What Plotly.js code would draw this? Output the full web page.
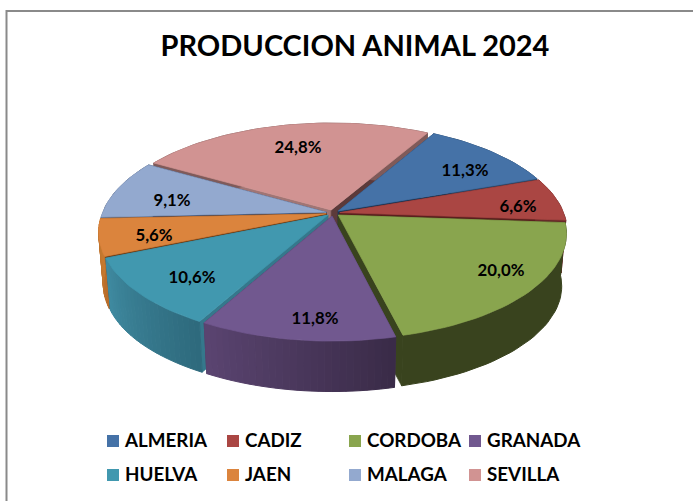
<!DOCTYPE html>
<html><head><meta charset="utf-8">
<script src="https://cdn.plot.ly/plotly-3.0.1.min.js"></script>
<style>html,body{margin:0;padding:0;background:#fff}#c{width:693px;height:501px}</style>
</head><body><div id="c"></div>
<script>
// ---- chart data ----
const categories = ['ALMERIA','CADIZ','CORDOBA','GRANADA','HUELVA','JAEN','MALAGA','SEVILLA'];
const shares = [11.3,6.6,20.0,11.8,10.6,5.6,9.1,24.8];
const shareLabels = ['11,3%','6,6%','20,0%','11,8%','10,6%','5,6%','9,1%','24,8%'];
const chartTitle = 'PRODUCCION ANIMAL 2024';
// ---- styles ----
const topColors  = ['#4572A7','#AA4643','#89A54E','#71588F','#4198AF','#DB843D','#93A9CF','#D19392'];
const rimFrom    = ['#2A4566','#672A28','#39431E','#3A2B48','#2E6A7D','#B86C2A','#5A6A86','#7F5A59'];
const rimTo      = ['#2A4566','#672A28','#39431E','#5A4470','#3F8AA0','#C67A30','#5A6A86','#7F5A59'];
const startWall  = ['#1D3554','#5A1F1E','#39431E','#4A3A5C','#35788C','#6B3A12','#26385A','#A07574'];
const endWall    = ['#1D3554','#5A1F1E','#39431E','#4A3A5C','#35788C','#6B3A12','#26385A','#5C3A3A'];
const labelAnchorX = [465,518,501,315,192,154,172,298];
const labelAnchorY = [171.5,207.5,271.5,319.5,278.5,236.5,201.5,148.5];
// ---- projection of the tilted disc ----
const apex = {x:333,y:213}, A = 229.6, B = 105.2, K = 0.174;
const startAngle = 29.6, explode = 0.03, radius = 0.975;
const depthScale = 0.98, depthShift = 53;
const rad = d => d*Math.PI/180;
function project(X,Y,deep){
  const w = 1+K*Y, u = A*X/w, v = B*Y/w;
  const s = deep ? depthScale : 1, h = deep ? depthShift : 0;
  return [apex.x+s*u, apex.y-s*v+h];
}
function mix(a,b,t){
  const p=c=>[1,3,5].map(i=>parseInt(c.substr(i,2),16));
  const A1=p(a),B1=p(b);
  return 'rgb('+A1.map((v,i)=>Math.round(v+(B1[i]-v)*t)).join(',')+')';
}
const total = shares.reduce((a,b)=>a+b,0);
let cursor = startAngle;
const slices = shares.map((v,i)=>{
  const from = cursor, to = cursor + v/total*360; cursor = to;
  const mid = (from+to)/2;
  const ox = explode*Math.sin(rad(mid)), oy = explode*Math.cos(rad(mid));
  const pt = (a,r,deep)=>project(ox+r*Math.sin(rad(a)), oy+r*Math.cos(rad(a)), deep);
  return {i,from,to,mid,pt,depth:Math.cos(rad(mid))};
});
const traces = [];
function poly(pts,color,name,width){
  const x = pts.map(p=>p[0]).concat([pts[0][0]]);
  const y = pts.map(p=>p[1]).concat([pts[0][1]]);
  traces.push({type:'scatter',mode:'lines',x,y,fill:'toself',fillcolor:color,name,
    line:{color:color,width:width===undefined?0.7:width},hoverinfo:'skip',showlegend:false});
}
// painter's order: far slices first
slices.slice().sort((a,b)=>b.depth-a.depth).forEach(s=>{
  const n = categories[s.i], i = s.i;
  poly([s.pt(0,0,false),s.pt(s.from,radius,false),s.pt(s.from,radius,true),s.pt(0,0,true)],startWall[i],n);
  poly([s.pt(0,0,false),s.pt(s.to,radius,false),s.pt(s.to,radius,true),s.pt(0,0,true)],endWall[i],n);
  const flat = rimFrom[i]===rimTo[i];
  const steps = flat ? 1 : Math.max(2,Math.round((s.to-s.from)/1.5));
  for(let k=0;k<steps;k++){
    const a = s.from+(s.to-s.from)*k/steps, b = s.from+(s.to-s.from)*(k+1)/steps;
    const sub = flat ? Math.ceil((b-a)/2) : 2;
    const pts=[];
    for(let j=0;j<=sub;j++) pts.push(s.pt(a+(b-a)*j/sub,radius,false));
    for(let j=sub;j>=0;j--) pts.push(s.pt(a+(b-a)*j/sub,radius,true));
    poly(pts,flat?rimFrom[i]:mix(rimFrom[i],rimTo[i],k/(steps-1)),n,1);
  }
  const top=[s.pt(0,0,false)];
  const m=Math.ceil((s.to-s.from)/2);
  for(let j=0;j<=m;j++) top.push(s.pt(s.from+(s.to-s.from)*j/m,radius,false));
  poly(top,topColors[i],n);
});
// value labels
traces.push({type:'scatter',mode:'text',x:labelAnchorX,y:labelAnchorY,text:shareLabels,
  textposition:'middle center',cliponaxis:false,hoverinfo:'skip',showlegend:false,
  textfont:{family:'Lato, "Open Sans", sans-serif',size:16.8,color:'#000',weight:700}});
// legend keys
const legendCols=[113,233,355,475], legendRows=[441,475];
const perRow=4, keyGap=12;
const keyX=categories.map((c,i)=>legendCols[i%perRow]);
const keyY=categories.map((c,i)=>legendRows[Math.floor(i/perRow)]);
traces.push({type:'scatter',mode:'markers',x:keyX,y:keyY,name:'legend keys',
  marker:{symbol:'square',size:12,color:topColors,line:{width:0}},
  cliponaxis:false,hoverinfo:'skip',showlegend:false});
traces.push({type:'scatter',mode:'text',x:keyX.map(v=>v+keyGap),y:keyY.map(v=>v+1.5),name:'legend text',
  text:categories,textposition:'middle right',
  textfont:{family:'Lato, "Open Sans", sans-serif',size:18.8,color:'#000',weight:700},
  cliponaxis:false,hoverinfo:'skip',showlegend:false});
const layout={
  width:693,height:501,margin:{l:0,r:0,t:0,b:0},paper_bgcolor:'#fff',plot_bgcolor:'#fff',
  showlegend:false,
  xaxis:{range:[0,693],visible:false,fixedrange:true},
  yaxis:{range:[501,0],visible:false,fixedrange:true},
  title:{text:'<b>'+chartTitle+'</b>',x:355/693,xanchor:'center',y:1-46/501,yanchor:'middle',
    font:{family:'Lato, "Open Sans", sans-serif',size:29,color:'#000'}},
  shapes:[
    {type:'line',xref:'paper',yref:'paper',x0:6.5/693,x1:1,y0:1-11/501,y1:1-11/501,line:{color:'#8a8a8a',width:2}},
    {type:'line',xref:'paper',yref:'paper',x0:6.5/693,x1:6.5/693,y0:1-10/501,y1:0,line:{color:'#8a8a8a',width:2}}
  ]
};
Plotly.newPlot('c',traces,layout,{displayModeBar:false,staticPlot:true});
</script></body></html>
